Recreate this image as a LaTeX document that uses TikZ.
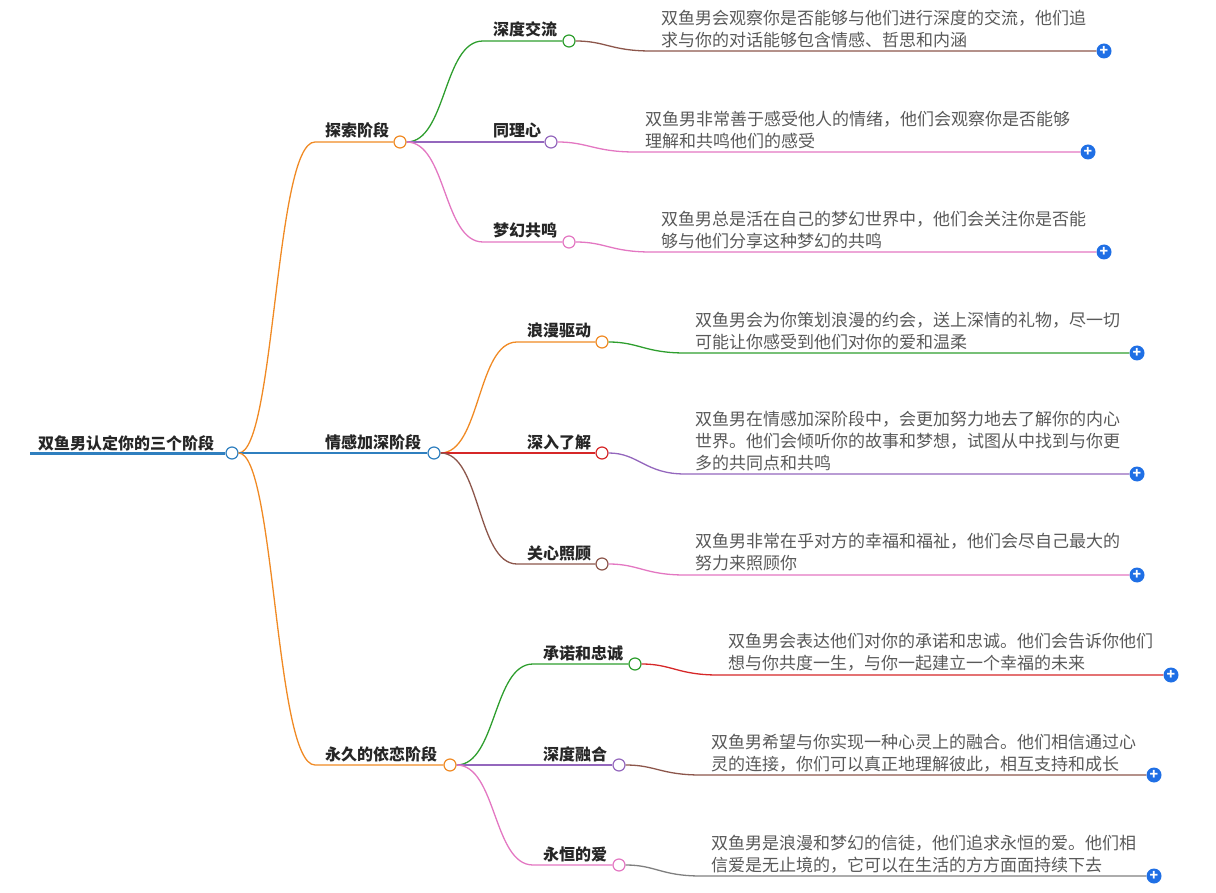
\documentclass[tikz,border=0pt]{standalone}
\usepackage{fontspec}
\setmainfont{Noto Sans CJK SC}
\usetikzlibrary{calc}
\definecolor{cOr}{HTML}{F08A24}
\definecolor{cBl}{HTML}{2F7FBF}
\definecolor{cGr}{HTML}{2E9E2E}
\definecolor{cPu}{HTML}{9467BD}
\definecolor{cPk}{HTML}{E377C2}
\definecolor{cRd}{HTML}{D62728}
\definecolor{cBr}{HTML}{8C564B}
\definecolor{cGy}{HTML}{7F7F7F}
\definecolor{cPlus}{HTML}{1F6FE5}
\tikzset{
 dot/.style={circle,draw=#1,fill=white,line width=1.2pt,minimum size=12pt,inner sep=0pt},
 lbl/.style={font=\fontsize{16}{20}\selectfont\bfseries,text=black!85,inner sep=0pt},
 leaf/.style={font=\fontsize{17}{22}\selectfont,text=black!65,align=left,anchor=north west,inner sep=0pt},
 plus/.style={circle,fill=cPlus,minimum size=15pt,inner sep=0pt,text=white,font=\bfseries\fontsize{14}{14}\selectfont},
 br/.style={draw=#1,line width=1.3pt},
}
\begin{document}
\begin{tikzpicture}[x=1pt,y=-1pt]
\useasboundingbox (0,0) rectangle (1216,893);
% root
\node[lbl,anchor=base west] (root) at (38,449) {双鱼男认定你的三个阶段};
\coordinate (r0) at (30,453);
\node[dot=cBl] (rc) at (232,453) {};
\draw[cBl,line width=3pt] (r0) -- (rc.west);
% level1
\newcommand{\lone}[6]{% name,x,y,color,text,textx
 \node[dot=#4] (#1) at (#2,#3) {};
 \node[lbl,anchor=base west] (#1t) at (#6,#3-5) {#5};
 \coordinate (#1s) at (#6-10,#3);
 \draw[br=#4] (rc.east) .. controls (275,453) and (275,#3) .. (#1s) -- (#1.west);
}
\lone{a}{400}{142}{cOr}{探索阶段}{325}
\lone{b}{434}{453}{cBl}{情感加深阶段}{325}
\lone{c}{450}{765}{cOr}{永久的依恋阶段}{325}
\newcommand{\ltwo}[7]{%
 \node[dot=#5] (#1) at (#3,#4) {};
 \node[lbl,anchor=base west] (#1t) at (#7,#4-5) {#6};
 \coordinate (#1s) at (#7-10,#4);
 \draw[br=#5] (#2.east) .. controls ($(#2.east)+(40,0)$) and (#7-50,#4) .. (#1s) -- (#1.west);
}
\newcommand{\leafn}[8]{%
 \node[leaf] (#1t) at (#3,#8) {#7};
 \coordinate (#1s) at (#3-10,#4);
 \node[plus] (#1p) at (#6+7,#4) {+};
 \draw[br=#5] (#2.east) .. controls ($(#2.east)+(30,0)$) and (#3-50,#4) .. (#1s) -- (#1p.west);
}
\ltwo{a1}{a}{569}{41}{cGr}{深度交流}{493}
\ltwo{a2}{a}{551}{142}{cPu}{同理心}{493}
\ltwo{a3}{a}{569}{242}{cPk}{梦幻共鸣}{493}
\ltwo{b1}{b}{602}{342}{cOr}{浪漫驱动}{527}
\ltwo{b2}{b}{602}{453}{cRd}{深入了解}{527}
\ltwo{b3}{b}{602}{564}{cBr}{关心照顾}{527}
\ltwo{c1}{c}{635}{664}{cGr}{承诺和忠诚}{543}
\ltwo{c2}{c}{619}{765}{cPu}{深度融合}{543}
\ltwo{c3}{c}{619}{865}{cPk}{永恒的爱}{543}
\leafn{l1}{a1}{661}{51}{cBr}{1097}{双鱼男会观察你是否能够与他们进行深度的交流，他们追\\求与你的对话能够包含情感、哲思和内涵}{10}
\leafn{l2}{a2}{645}{152}{cPk}{1081}{双鱼男非常善于感受他人的情绪，他们会观察你是否能够\\理解和共鸣他们的感受}{111}
\leafn{l3}{a3}{661}{252}{cPk}{1097}{双鱼男总是活在自己的梦幻世界中，他们会关注你是否能\\够与他们分享这种梦幻的共鸣}{211}
\leafn{l4}{b1}{695}{353}{cGr}{1130}{双鱼男会为你策划浪漫的约会，送上深情的礼物，尽一切\\可能让你感受到他们对你的爱和温柔}{312}
\leafn{l5}{b2}{695}{474}{cPu}{1130}{双鱼男在情感加深阶段中，会更加努力地去了解你的内心\\世界。他们会倾听你的故事和梦想，试图从中找到与你更\\多的共同点和共鸣}{411}
\leafn{l6}{b3}{695}{575}{cPk}{1130}{双鱼男非常在乎对方的幸福和福祉，他们会尽自己最大的\\努力来照顾你}{533}
\leafn{l7}{c1}{728}{675}{cRd}{1164}{双鱼男会表达他们对你的承诺和忠诚。他们会告诉你他们\\想与你共度一生，与你一起建立一个幸福的未来}{633}
\leafn{l8}{c2}{711}{775}{cBr}{1147}{双鱼男希望与你实现一种心灵上的融合。他们相信通过心\\灵的连接，你们可以真正地理解彼此，相互支持和成长}{734}
\leafn{l9}{c3}{711}{876}{cGy}{1147}{双鱼男是浪漫和梦幻的信徒，他们追求永恒的爱。他们相\\信爱是无止境的，它可以在生活的方方面面持续下去}{835}
\end{tikzpicture}
\end{document}
